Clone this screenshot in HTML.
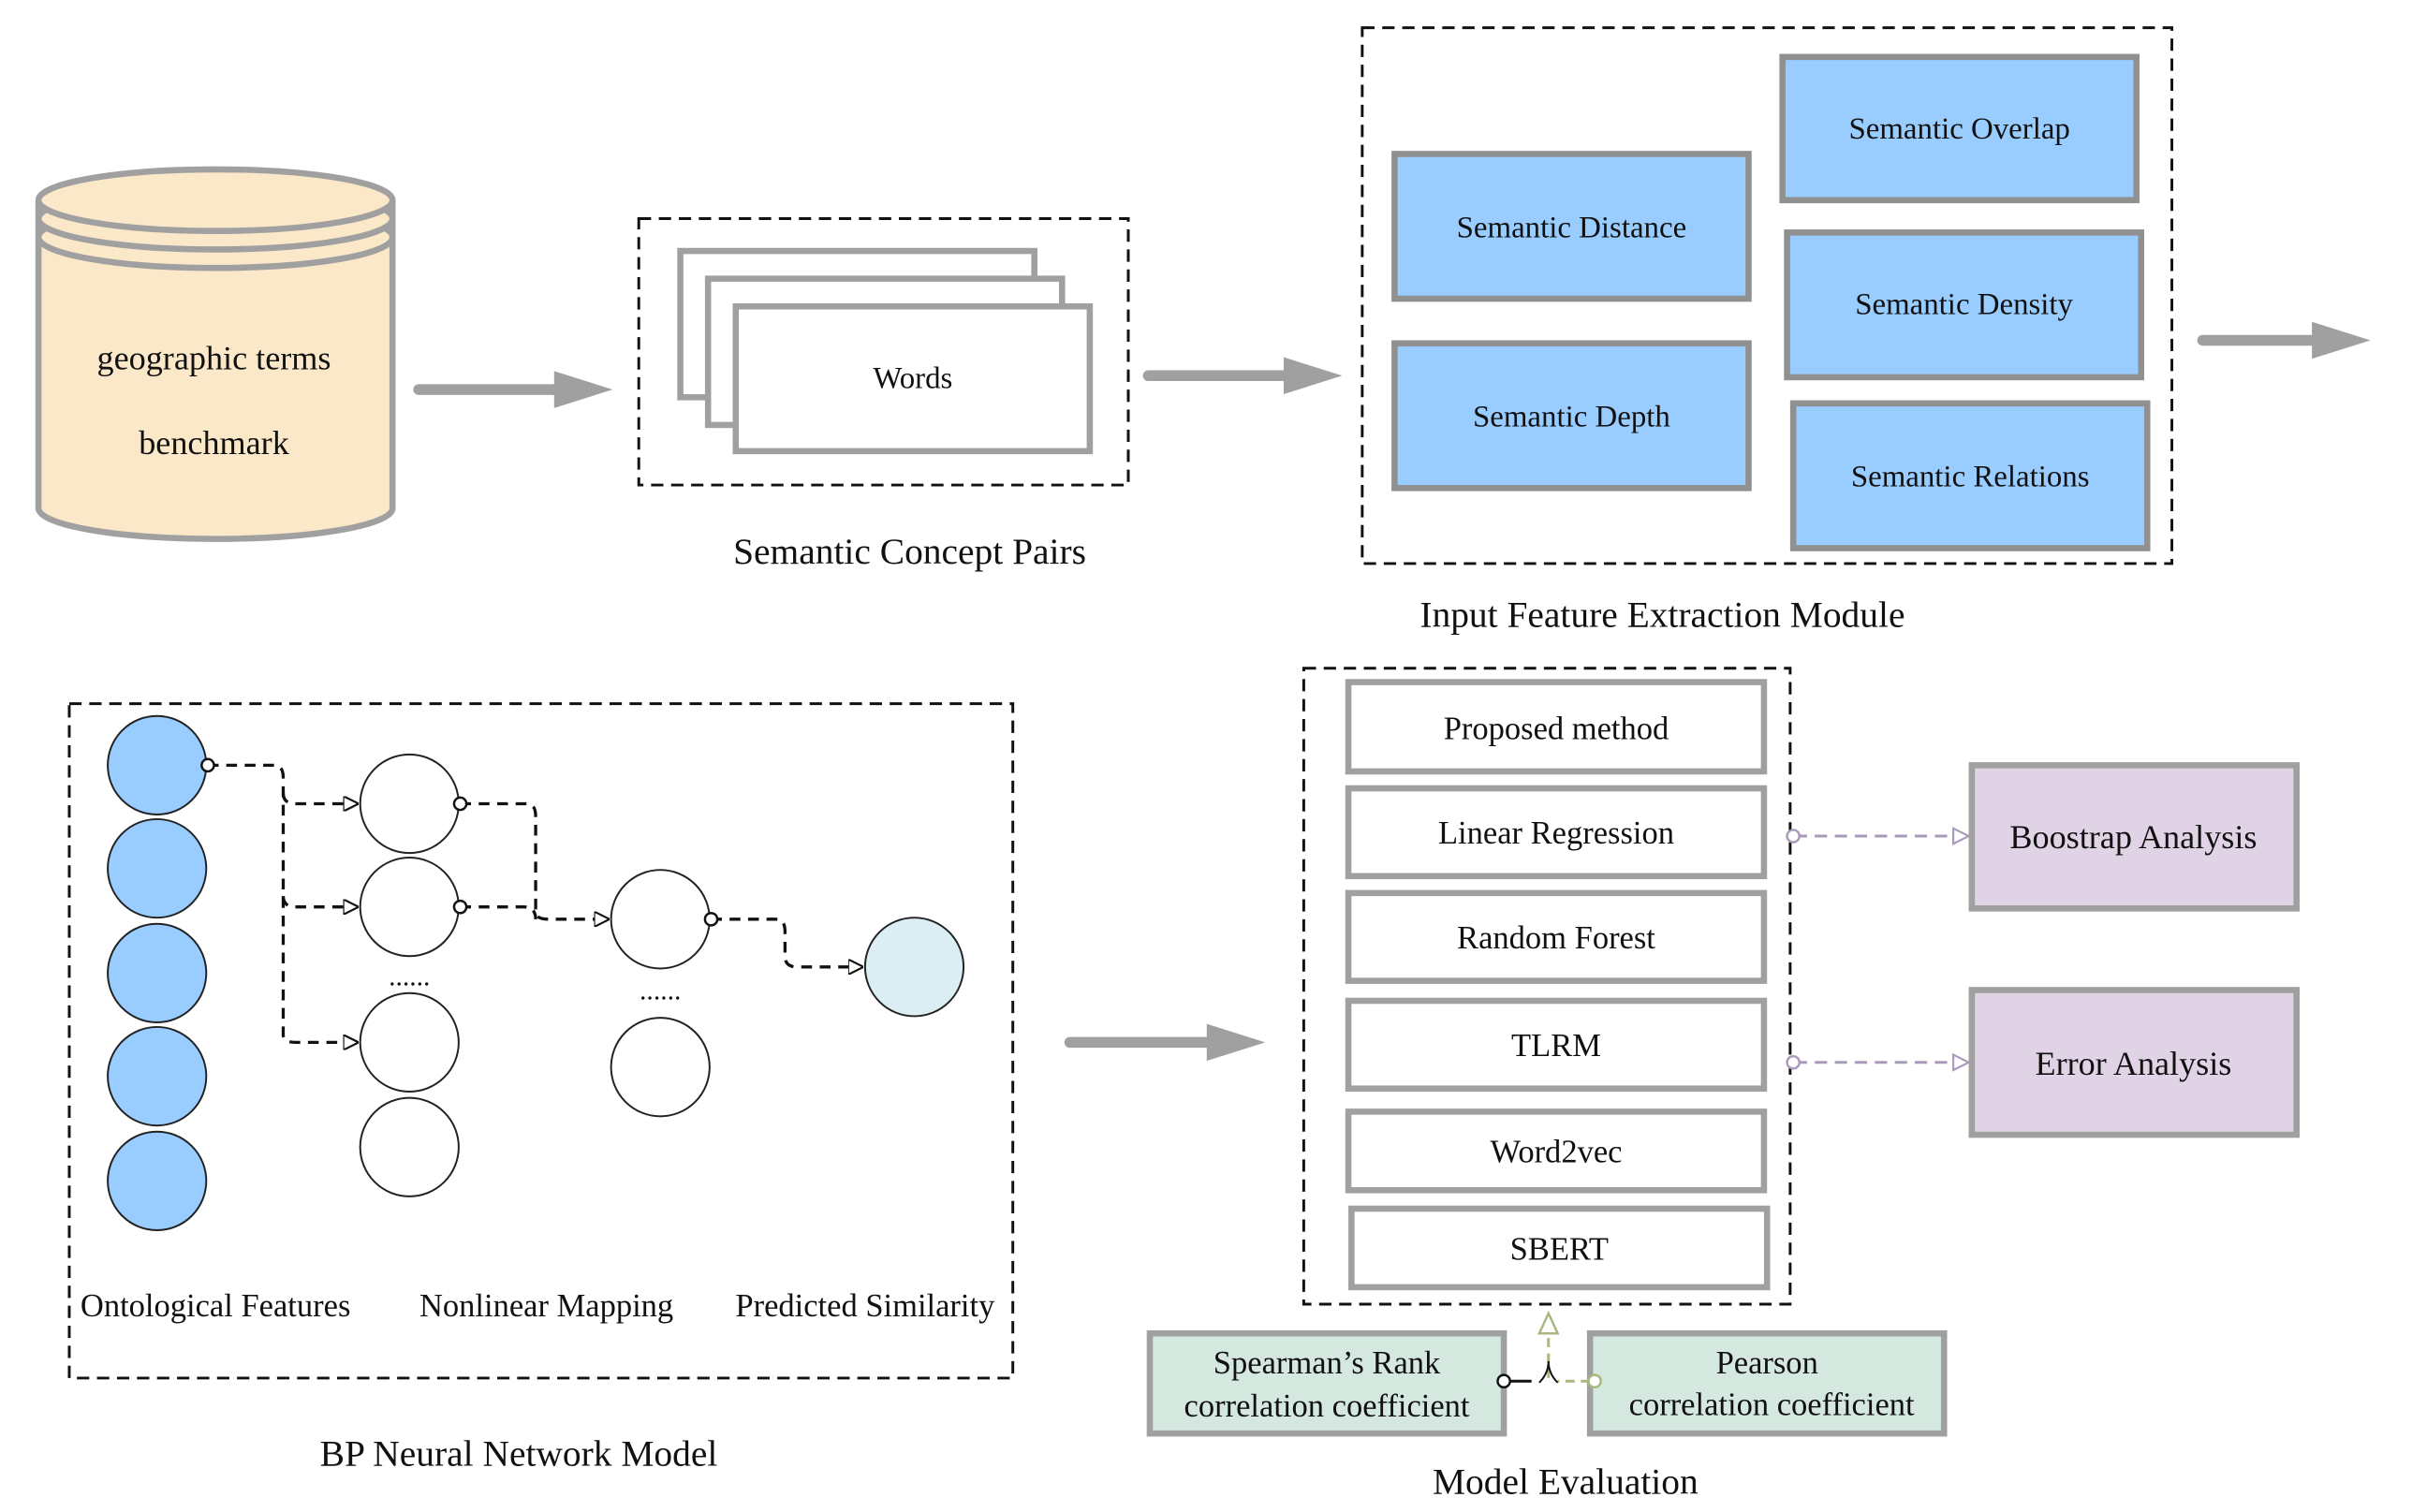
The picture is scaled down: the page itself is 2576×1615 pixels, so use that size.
<!DOCTYPE html>
<html><head><meta charset="utf-8"><style>
html,body{margin:0;padding:0;background:#fff;}
svg{display:block;}
text{font-family:"Liberation Serif",serif;fill:#111;text-anchor:middle;}
</style></head><body>
<svg width="2576" height="1615" viewBox="0 0 1567 982" preserveAspectRatio="none" xmlns="http://www.w3.org/2000/svg">
<defs>
<marker id="ah" markerWidth="10" markerHeight="10" refX="9" refY="5" orient="auto" markerUnits="userSpaceOnUse"><path d="M0,0 L10,5 L0,10 Z" fill="#fff" stroke="#111" stroke-width="1.3"/></marker>
<marker id="ahp" markerWidth="12" markerHeight="12" refX="11" refY="6" orient="auto" markerUnits="userSpaceOnUse"><path d="M1,1 L11,6 L1,11 Z" fill="#fff" stroke="#a89ab8" stroke-width="1.3"/></marker>
</defs>
<path d="M25,130 L25,330 A115,20 0 0 0 255,330 L255,130" fill="#fbe8c8" stroke="#a0a0a0" stroke-width="4"/>
<ellipse cx="140" cy="154" rx="115" ry="20" fill="#fbe8c8" stroke="#a0a0a0" stroke-width="4"/>
<ellipse cx="140" cy="142" rx="115" ry="20" fill="#fbe8c8" stroke="#a0a0a0" stroke-width="4"/>
<ellipse cx="140" cy="130" rx="115" ry="20" fill="#fbe8c8" stroke="#a0a0a0" stroke-width="4"/>
<text x="139" y="240" font-size="22">geographic terms</text>
<text x="139" y="295" font-size="22">benchmark</text>
<g fill="#a0a0a0" stroke="#a0a0a0">
<line x1="272" y1="253" x2="365" y2="253" stroke-width="7" stroke-linecap="round"/><path d="M360,241 L398,253 L360,265 Z" stroke="none"/>
<line x1="746" y1="244" x2="838" y2="244" stroke-width="7" stroke-linecap="round"/><path d="M834,232 L872,244 L834,256 Z" stroke="none"/>
<line x1="1431" y1="221" x2="1505" y2="221" stroke-width="7" stroke-linecap="round"/><path d="M1502,209 L1540,221 L1502,233 Z" stroke="none"/>
<line x1="695" y1="677" x2="788" y2="677" stroke-width="7" stroke-linecap="round"/><path d="M784,665 L822,677 L784,689 Z" stroke="none"/>
</g>
<rect x="415" y="142" width="318" height="173" fill="none" stroke="#111" stroke-width="1.8" stroke-dasharray="8,5"/>
<rect x="442" y="163" width="230" height="95" fill="#fff" stroke="#a0a0a0" stroke-width="4"/>
<rect x="460" y="181" width="230" height="95" fill="#fff" stroke="#a0a0a0" stroke-width="4"/>
<rect x="478" y="199" width="230" height="94" fill="#fff" stroke="#a0a0a0" stroke-width="4"/>
<text x="593" y="252" font-size="20">Words</text>
<text x="591" y="366" font-size="24">Semantic Concept Pairs</text>
<rect x="885" y="18" width="526" height="348" fill="none" stroke="#111" stroke-width="1.8" stroke-dasharray="8,5"/>
<g fill="#99ccff" stroke="#909090" stroke-width="4">
<rect x="906" y="100" width="230" height="94"/><rect x="906" y="223" width="230" height="94"/>
<rect x="1158" y="37" width="230" height="93"/><rect x="1161" y="151" width="230" height="94"/><rect x="1165" y="262" width="230" height="94"/>
</g>
<g font-size="20">
<text x="1021" y="154">Semantic Distance</text><text x="1021" y="277">Semantic Depth</text>
<text x="1273" y="90">Semantic Overlap</text><text x="1276" y="204">Semantic Density</text><text x="1280" y="316">Semantic Relations</text>
</g>
<text x="1080" y="407" font-size="24">Input Feature Extraction Module</text>
<rect x="45" y="457" width="613" height="438" fill="none" stroke="#111" stroke-width="1.8" stroke-dasharray="8,5"/>
<g fill="#99ccff" stroke="#222" stroke-width="1.2">
<ellipse cx="102" cy="497" rx="32" ry="32"/><ellipse cx="102" cy="564" rx="32" ry="32"/><ellipse cx="102" cy="632" rx="32" ry="32"/><ellipse cx="102" cy="699" rx="32" ry="32"/><ellipse cx="102" cy="767" rx="32" ry="32"/>
</g>
<g fill="#fff" stroke="#222" stroke-width="1.2">
<ellipse cx="266" cy="522" rx="32" ry="32"/><ellipse cx="266" cy="589" rx="32" ry="32"/><ellipse cx="266" cy="677" rx="32" ry="32"/><ellipse cx="266" cy="745" rx="32" ry="32"/>
<ellipse cx="429" cy="597" rx="32" ry="32"/><ellipse cx="429" cy="693" rx="32" ry="32"/>
</g>
<ellipse cx="594" cy="628" rx="32" ry="32" fill="#daeef3" stroke="#222" stroke-width="1.2"/>
<text x="266" y="640" font-size="18">......</text><text x="429" y="649" font-size="18">......</text>
<g fill="none" stroke="#111" stroke-width="2" stroke-dasharray="7,5">
<path d="M135,497 L178,497 Q184,497 184,505 L184,672 Q184,677 192,677 L232,677" marker-end="url(#ah)"/>
<path d="M184,515 Q184,522 192,522 L232,522" marker-end="url(#ah)"/>
<path d="M184,582 Q184,589 192,589 L232,589" marker-end="url(#ah)"/>
<path d="M299,522 L342,522 Q348,522 348,530 L348,592 Q348,597 356,597 L395,597" marker-end="url(#ah)"/>
<path d="M299,589 L340,589 Q348,589 348,597"/>
<path d="M462,597 L504,597 Q510,597 510,605 L510,621 Q510,628 518,628 L560,628" marker-end="url(#ah)"/>
</g>
<g fill="#fff" stroke="#111" stroke-width="1.5"><circle cx="135" cy="497" r="4"/><circle cx="299" cy="522" r="4"/><circle cx="299" cy="589" r="4"/><circle cx="462" cy="597" r="4"/></g>
<g font-size="21"><text x="140" y="855">Ontological Features</text><text x="355" y="855">Nonlinear Mapping</text><text x="562" y="855">Predicted Similarity</text></g>
<text x="337" y="952" font-size="24">BP Neural Network Model</text>
<rect x="847" y="434" width="316" height="413" fill="none" stroke="#111" stroke-width="1.8" stroke-dasharray="8,5"/>
<g fill="#fff" stroke="#a0a0a0" stroke-width="4">
<rect x="876" y="443" width="270" height="58"/><rect x="876" y="512" width="270" height="57"/><rect x="876" y="580" width="270" height="57"/>
<rect x="876" y="650" width="270" height="57"/><rect x="876" y="722" width="270" height="51"/><rect x="878" y="785" width="270" height="51"/>
</g>
<g font-size="21">
<text x="1011" y="480">Proposed method</text><text x="1011" y="548">Linear Regression</text><text x="1011" y="616">Random Forest</text>
<text x="1011" y="686">TLRM</text><text x="1011" y="755">Word2vec</text><text x="1013" y="818">SBERT</text>
</g>
<g fill="none" stroke="#a89ab8" stroke-width="1.8" stroke-dasharray="8,5">
<path d="M1166,543 L1279,543" marker-end="url(#ahp)"/><path d="M1166,690 L1279,690" marker-end="url(#ahp)"/>
</g>
<g fill="#fff" stroke="#a89ab8" stroke-width="1.5"><circle cx="1165" cy="543" r="4"/><circle cx="1165" cy="690" r="4"/></g>
<g fill="#e0d3e6" stroke="#a0a0a0" stroke-width="4"><rect x="1281" y="497" width="211" height="93"/><rect x="1281" y="643" width="211" height="94"/></g>
<g font-size="22"><text x="1386" y="551">Boostrap Analysis</text><text x="1386" y="698">Error Analysis</text></g>
<g fill="#d5e8e0" stroke="#a0a0a0" stroke-width="4"><rect x="747" y="866" width="230" height="65"/><rect x="1033" y="866" width="230" height="65"/></g>
<g font-size="21"><text x="862" y="892">Spearman’s Rank</text><text x="862" y="920">correlation coefficient</text>
<text x="1148" y="892">Pearson</text><text x="1151" y="919">correlation coefficient</text></g>
<path d="M981,897 L995,897" stroke="#111" stroke-width="1.8"/>
<circle cx="977" cy="897" r="4" fill="#fff" stroke="#111" stroke-width="1.5"/>
<path d="M1033,897 L1012,897" stroke="#a8b880" stroke-width="1.8" stroke-dasharray="6,4"/>
<circle cx="1036" cy="897" r="4" fill="#fff" stroke="#a8b880" stroke-width="1.5"/>
<path d="M1006,895 L1006,866" stroke="#a8b880" stroke-width="1.8" stroke-dasharray="6,4"/>
<path d="M1000,866 L1006,853 L1012,866 Z" fill="#fff" stroke="#a8b880" stroke-width="1.5"/>
<path d="M1000,898 Q1006,892 1006,884 Q1006,892 1012,898" fill="none" stroke="#111" stroke-width="1.2"/>
<text x="1017" y="970" font-size="24">Model Evaluation</text>
</svg>
</body></html>
